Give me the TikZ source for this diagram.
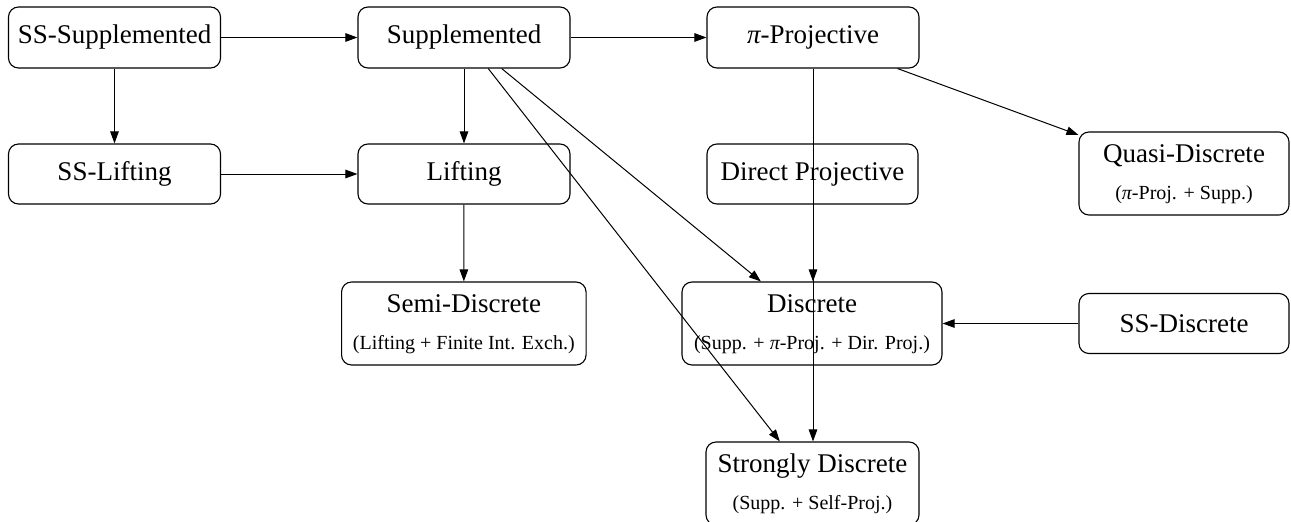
\documentclass[tikz,border=0pt]{standalone}
\usepackage{fontspec}
\setmainfont{Liberation Serif}
\usetikzlibrary{arrows.meta}
\newcommand\mainf{\fontsize{27}{32}\selectfont}
\newcommand\subf{\fontsize{20}{24}\selectfont}
\newcommand\pii{{\itshape π}}
\begin{document}
\begin{tikzpicture}[x=1pt,y=-1pt,
  box/.style={draw=black, line width=1.1pt, rounded corners=10pt, inner sep=0pt,
    minimum width=212pt, minimum height=61pt, font=\mainf},
  box2/.style={draw=black, line width=1.1pt, rounded corners=10pt, inner sep=0pt,
    minimum height=83pt},
  maintxt/.style={anchor=base, inner sep=0pt, font=\mainf},
  subtxt/.style={anchor=base, inner sep=0pt, font=\subf},
  edge/.style={draw=black, line width=1pt, -{Triangle[length=12pt,width=8.5pt]}},
]
\useasboundingbox (0,0) rectangle (1291,522);

% row 1
\node[box] (sssupp) at (114.5,37.5) {SS-Supplemented};
\node[box] (supp)   at (464,37.5) {Supplemented};
\node[box] (piproj) at (813,37.5) {\pii-Projective};
% row 2
\node[box, minimum height=60pt] (sslift) at (114.5,174) {SS-Lifting};
\node[box, minimum height=60pt] (lift)   at (464,174) {Lifting};
\node[box, minimum height=60pt, minimum width=211pt] (dirproj) at (812.5,174) {Direct Projective};
\node[box2, minimum width=210pt] (quasi) at (1184,173.5) {};
\node[maintxt] (quasiA) at (1184,162) {Quasi-Discrete};
\node[subtxt]  (quasiB) at (1184,199) {(\pii-Proj. + Supp.)};
% row 3
\node[box2, minimum width=244.5pt] (semi) at (463.8,323.5) {};
\node[maintxt] (semiA) at (463.8,312) {Semi-Discrete};
\node[subtxt]  (semiB) at (463.8,349) {(Lifting + Finite Int. Exch.)};
\node[box2, minimum width=260pt] (disc) at (812,323.5) {};
\node[maintxt] (discA) at (812,312) {Discrete};
\node[subtxt]  (discB) at (812,349) {(Supp. + \pii-Proj. + Dir. Proj.)};
\node[box, minimum width=210pt, minimum height=60pt] (ssdisc) at (1184,323.5) {SS-Discrete};
% row 4
\node[box2, minimum width=213pt] (strong) at (812.5,483.5) {};
\node[maintxt] (strongA) at (812.5,472) {Strongly Discrete};
\node[subtxt]  (strongB) at (812.5,509) {(Supp. + Self-Proj.)};

% edges
\draw[edge] (sssupp) -- (supp);
\draw[edge] (supp) -- (piproj);
\draw[edge] (sssupp) -- (sslift);
\draw[edge] (sslift) -- (lift);
\draw[edge] (supp) -- (lift);
\draw[edge] (lift) -- (semi);
\draw[edge] (supp) -- (disc);
\draw[edge] (supp) -- (strong);
\draw[edge] (piproj.south) -- (piproj.south |- disc.north);
\draw[edge] (piproj.south) -- (piproj.south |- strong.north);
\draw[edge] (piproj) -- (quasi);
\draw[edge] (ssdisc) -- (disc);
\end{tikzpicture}
\end{document}
